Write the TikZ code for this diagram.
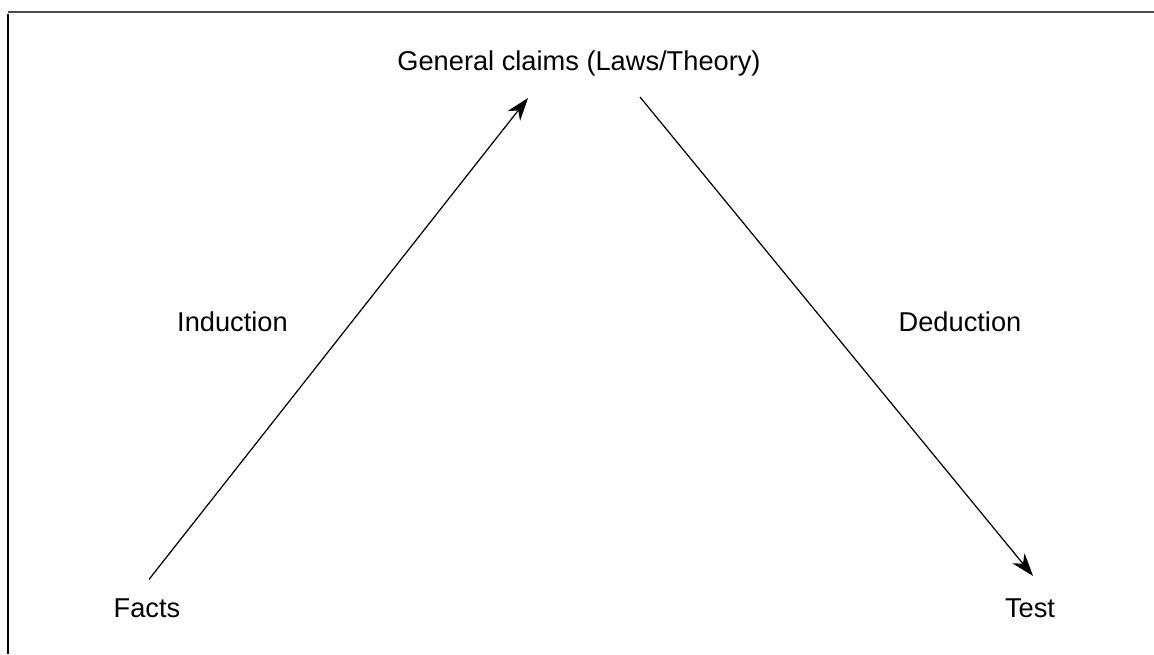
\documentclass[tikz,border=0pt]{standalone}
\usepackage{fontspec}
\setmainfont{Liberation Sans}
\usetikzlibrary{arrows.meta}

\begin{document}
\begin{tikzpicture}[x=0.02cm,y=-0.02cm,
lbl/.style={inner sep=0pt,anchor=base,font=\fontsize{15.5}{18}\selectfont},
link/.style={line width=0.7pt,-{Stealth[length=13pt,width=9pt,inset=4pt]}},
frame/.style={line width=1.6pt}]
\useasboundingbox (0,0) rectangle (1154,654);
\draw[frame,black!70,line width=1.3pt](8,12)--(1154,12);
\draw[frame](8,14)--(8,654);

\node[lbl](gen)at(579,70){General claims (Laws/Theory)};
\node[lbl](ind)at(232.5,331){Induction};
\node[lbl](ded)at(960,331){Deduction};
\node[lbl](fac)at(147,617){Facts};
\node[lbl](tst)at(1030,617){Test};

\draw[link]([xshift=0.04cm,yshift=0.37cm]fac.north)--([xshift=-1.02cm,yshift=-0.44cm]gen.south);
\draw[link]([xshift=1.22cm,yshift=-0.42cm]gen.south)--([xshift=0.06cm,yshift=0.44cm]tst.north);

\end{tikzpicture}
\end{document}
